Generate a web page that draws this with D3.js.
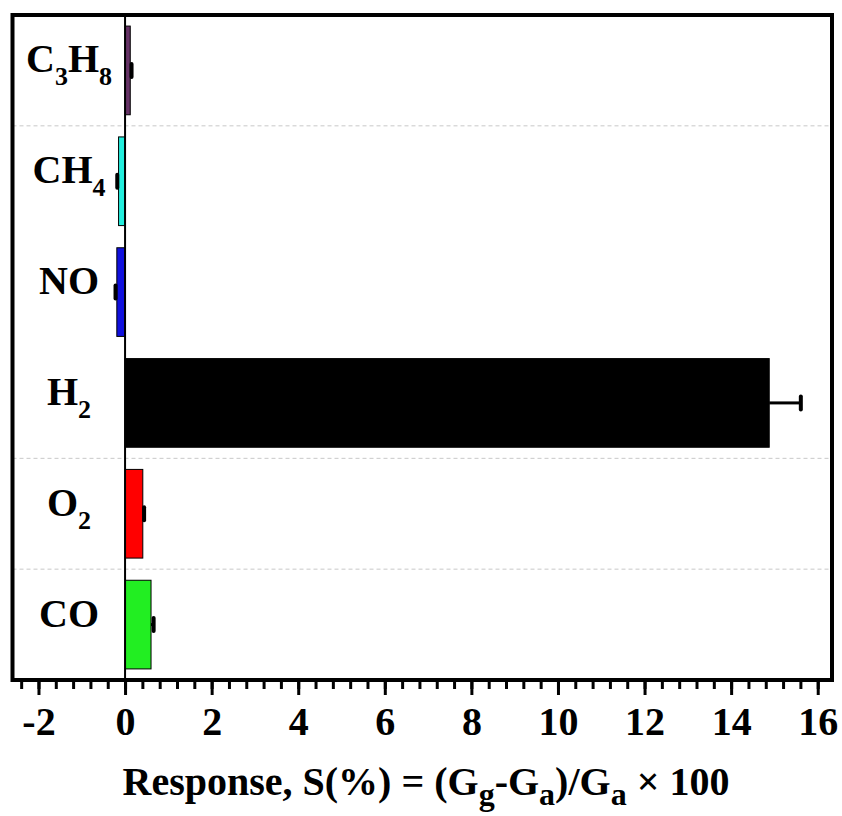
<!DOCTYPE html>
<html>
<head>
<meta charset="utf-8">
<script src="https://cdn.jsdelivr.net/npm/d3@7"></script>
<style>
  body { margin: 0; background: #fff; }
  .canvas { width: 842px; height: 816px; }
  text { font-family: "Liberation Serif", "Times New Roman", serif; font-weight: bold; fill: #000; }
</style>
</head>
<body>
<div class="canvas"></div>
<script>
// data, top to bottom as in the plot
var gases = ["C3H8", "CH4", "NO", "H2", "O2", "CO"];
var response = [0.12, -0.15, -0.19, 14.88, 0.41, 0.60];
var errors = [0.03, 0.03, 0.03, 0.73, 0.03, 0.06];
var colors = ["#663366", "#22eedd", "#1010dd", "#000000", "#ff0000", "#22ee22"];
var majorTicks = [-2, 0, 2, 4, 6, 8, 10, 12, 14, 16];
var minorTicks = d3.range(-2.4, 16.01, 0.4);
var gridAfter = ["C3H8", "H2", "O2"]; // dashed separators below these bands

// set up svg
var width = 842, height = 816;
var svg = d3.select('.canvas').append('svg')
	.attr('width', width)
	.attr('height', height);

var plotL = 12.5, plotR = 832, plotT = 15, plotB = 680;

var x = d3.scaleLinear()
	.domain([-2.6, 16.33])
	.range([plotL, plotR]);

var y = d3.scaleBand()
	.domain(gases)
	.range([plotT, plotB])
	.paddingInner(0.2)
	.paddingOuter(0.1);

var rows = gases.map(function (g, i) {
	return { name: g, value: response[i], err: errors[i], color: colors[i] };
});

// dashed separators
svg.append('g').selectAll('line')
	.data(gridAfter)
	.enter()
	.append('line')
	.attr('x1', plotL)
	.attr('x2', plotR)
	.attr('y1', d => y(d) + y.bandwidth() + y.step() * 0.1)
	.attr('y2', d => y(d) + y.bandwidth() + y.step() * 0.1)
	.attr('stroke', '#c8c8c8')
	.attr('stroke-width', 1)
	.attr('stroke-dasharray', '4,3');

// bars
svg.append('g').selectAll('rect')
	.data(rows)
	.enter()
	.append('rect')
	.attr('x', d => x(Math.min(0, d.value)))
	.attr('y', d => y(d.name))
	.attr('width', d => Math.abs(x(d.value) - x(0)))
	.attr('height', y.bandwidth())
	.attr('fill', d => d.color)
	.attr('stroke', '#000')
	.attr('stroke-width', 1);

// error bars (outer side only)
var eb = svg.append('g').selectAll('g')
	.data(rows)
	.enter()
	.append('g');

eb.append('line')
	.attr('x1', d => x(d.value))
	.attr('x2', d => x(d.value + Math.sign(d.value) * d.err))
	.attr('y1', d => y(d.name) + y.bandwidth() / 2)
	.attr('y2', d => y(d.name) + y.bandwidth() / 2)
	.attr('stroke', '#000')
	.attr('stroke-width', 3);

eb.append('rect')
	.attr('x', d => x(d.value + Math.sign(d.value) * d.err) - 2)
	.attr('y', d => y(d.name) + y.bandwidth() / 2 - 8.5)
	.attr('width', 4)
	.attr('height', 17)
	.attr('rx', 2)
	.attr('fill', '#000');

// zero line
svg.append('line')
	.attr('x1', x(0)).attr('x2', x(0))
	.attr('y1', plotT).attr('y2', plotB)
	.attr('stroke', '#000')
	.attr('stroke-width', 2);

// x axis, minor then major
var minorAxis = svg.append('g')
	.attr('transform', 'translate(0,' + plotB + ')')
	.call(d3.axisBottom(x).tickValues(minorTicks).tickSize(9).tickFormat(''));
minorAxis.select('.domain').remove();
minorAxis.selectAll('line').attr('stroke-width', 3);

var majorAxis = svg.append('g')
	.attr('transform', 'translate(0,' + plotB + ')')
	.call(d3.axisBottom(x).tickValues(majorTicks).tickSize(15).tickPadding(12).tickFormat(d3.format('d')));
majorAxis.select('.domain').remove();
majorAxis.selectAll('line').attr('stroke-width', 3);
majorAxis.selectAll('text')
	.attr('font-size', 40)
	.attr('font-family', '"Liberation Serif", serif')
	.attr('font-weight', 'bold')
	.attr('fill', '#000')
	.text(d => d < 0 ? '-' + Math.abs(d) : d);

// frame
svg.append('rect')
	.attr('x', plotL)
	.attr('y', plotT)
	.attr('width', plotR - plotL)
	.attr('height', plotB - plotT)
	.attr('fill', 'none')
	.attr('stroke', '#000')
	.attr('stroke-width', 4);

// category labels with subscripts
var labels = svg.append('g').selectAll('text')
	.data(gases)
	.enter()
	.append('text')
	.attr('x', 69)
	.attr('y', d => y(d) + y.bandwidth() / 2 + 15)
	.attr('text-anchor', 'middle')
	.attr('font-size', 40);

labels.each(function (d) {
	var t = d3.select(this);
	d.match(/[A-Z]+|\d+/g).forEach(function (part) {
		if (/\d/.test(part)) {
			t.append('tspan').attr('font-size', 26).attr('dy', 13).text(part);
		} else {
			t.append('tspan').attr('dy', t.selectAll('tspan').size() ? -13 : 0).text(part);
		}
	});
});

// axis title
var title = svg.append('text')
	.attr('x', 426)
	.attr('y', 795)
	.attr('text-anchor', 'middle')
	.attr('font-size', 40);

title.append('tspan').text('Response, S(%) = (G');
title.append('tspan').attr('font-size', 32).attr('dy', 10).text('g');
title.append('tspan').attr('dy', -10).text('-G');
title.append('tspan').attr('font-size', 32).attr('dy', 10).text('a');
title.append('tspan').attr('dy', -10).text(')/G');
title.append('tspan').attr('font-size', 32).attr('dy', 10).text('a');
title.append('tspan').attr('dy', -10).text(' \u00d7 100');
</script>
</body>
</html>
